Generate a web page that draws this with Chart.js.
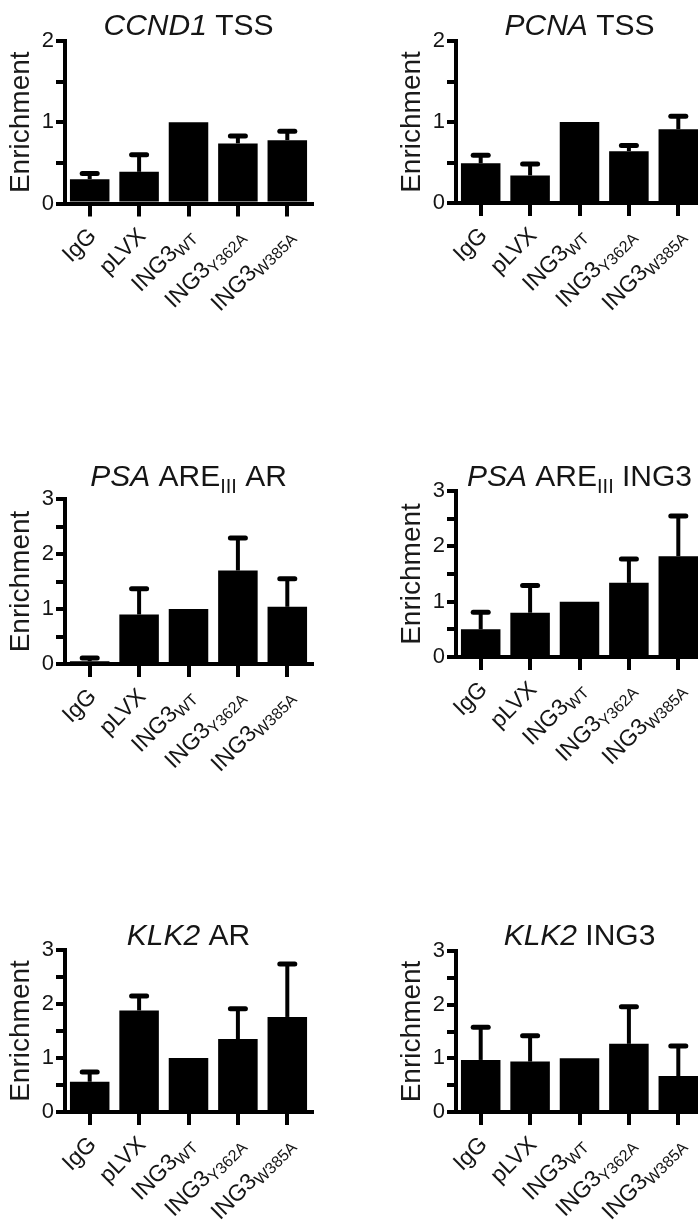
<!DOCTYPE html>
<html>
<head>
<meta charset="utf-8">
<script src="https://cdn.jsdelivr.net/npm/chart.js@4.4.1/dist/chart.umd.min.js"></script>
<style>
  html, body { margin: 0; padding: 0; background: #fff; overflow: hidden; width: 698px; height: 1232px; }
  canvas.panel { position: absolute; }
</style>
</head>
<body>
<canvas id="ccnd1" class="panel"></canvas>
<canvas id="pcna" class="panel"></canvas>
<canvas id="psaAr" class="panel"></canvas>
<canvas id="psaIng3" class="panel"></canvas>
<canvas id="klk2Ar" class="panel"></canvas>
<canvas id="klk2Ing3" class="panel"></canvas>
<script>
// category labels: main text + subscript
const mainLabels = ['IgG', 'pLVX', 'ING3', 'ING3', 'ING3'];
const subLabels = ['', '', 'WT', 'Y362A', 'W385A'];

// mean enrichment and upper error (SEM) per panel
const ccnd1Mean = [0.30, 0.39, 1.0, 0.74, 0.78];
const ccnd1Err  = [0.07, 0.21, 0, 0.09, 0.11];
const pcnaMean  = [0.49, 0.34, 1.0, 0.64, 0.91];
const pcnaErr   = [0.10, 0.14, 0, 0.07, 0.16];
const psaArMean = [0.05, 0.90, 1.0, 1.70, 1.04];
const psaArErr  = [0.06, 0.47, 0, 0.59, 0.51];
const psaIng3Mean = [0.50, 0.80, 1.0, 1.34, 1.82];
const psaIng3Err  = [0.31, 0.49, 0, 0.43, 0.73];
const klk2ArMean = [0.56, 1.88, 1.0, 1.35, 1.76];
const klk2ArErr  = [0.18, 0.27, 0, 0.56, 0.98];
const klk2Ing3Mean = [0.97, 0.94, 1.0, 1.27, 0.67];
const klk2Ing3Err  = [0.61, 0.48, 0, 0.69, 0.56];

const yMaxima = [2, 2, 3, 3, 3, 3];

// title pieces: [text, style] where style is 'i' italic, 's' subscript, '' normal
const titles = [
  [['CCND1', 'i'], [' TSS', '']],
  [['PCNA', 'i'], [' TSS', '']],
  [['PSA', 'i'], [' ARE', ''], ['III', 's'], [' AR', '']],
  [['PSA', 'i'], [' ARE', ''], ['III', 's'], [' ING3', '']],
  [['KLK2', 'i'], [' AR', '']],
  [['KLK2', 'i'], [' ING3', '']]
];

const FAMILY = "'Liberation Sans', Arial, Helvetica, sans-serif";
const W = 330, H = 380;

// where each panel sits on the page
const layout = {
  ccnd1:    { left: 0,   top: 0,   areaTop: 41, areaBottom: 203.5, titleY: 35 },
  pcna:     { left: 391, top: 0,   areaTop: 41, areaBottom: 203,   titleY: 35 },
  psaAr:    { left: 0,   top: 420, areaTop: 79, areaBottom: 244,   titleY: 66 },
  psaIng3:  { left: 391, top: 420, areaTop: 71, areaBottom: 237,   titleY: 66 },
  klk2Ar:   { left: 0,   top: 900, areaTop: 50, areaBottom: 212,   titleY: 45 },
  klk2Ing3: { left: 391, top: 900, areaTop: 51, areaBottom: 212,   titleY: 45 }
};

const errorBars = {
  id: 'errorBars',
  afterDatasetsDraw(chart) {
    const { ctx } = chart;
    const y = chart.scales.y;
    const ds = chart.data.datasets[0];
    const meta = chart.getDatasetMeta(0);
    ctx.save();
    ctx.strokeStyle = '#000';
    meta.data.forEach((bar, i) => {
      const e = ds.err[i];
      if (!e) return;
      const y0 = y.getPixelForValue(ds.data[i]);
      const y1 = y.getPixelForValue(ds.data[i] + e);
      ctx.lineWidth = 4;
      ctx.lineCap = 'butt';
      ctx.beginPath();
      ctx.moveTo(bar.x, y0);
      ctx.lineTo(bar.x, y1);
      ctx.stroke();
      ctx.lineWidth = 5;
      ctx.lineCap = 'round';
      ctx.beginPath();
      ctx.moveTo(bar.x - 7.5, y1);
      ctx.lineTo(bar.x + 7.5, y1);
      ctx.stroke();
    });
    ctx.restore();
  }
};

// rotated category labels with subscripts
const xLabels = {
  id: 'xLabels',
  afterDraw(chart) {
    const { ctx, chartArea } = chart;
    const x = chart.scales.x;
    ctx.save();
    ctx.fillStyle = '#151515';
    ctx.textAlign = 'right';
    ctx.textBaseline = 'alphabetic';
    mainLabels.forEach((m, i) => {
      const px = x.getPixelForValue(i);
      ctx.save();
      ctx.translate(px + 2, chartArea.bottom + 28);
      ctx.rotate(-Math.PI / 4);
      let end = 0;
      const s = subLabels[i];
      if (s) {
        ctx.font = '16px ' + FAMILY;
        ctx.fillText(s, 0, 12);
        end = -ctx.measureText(s).width;
      }
      ctx.font = '23px ' + FAMILY;
      ctx.fillText(m, end, 8);
      ctx.restore();
    });
    ctx.restore();
  }
};

// panel title with italic gene name and subscripts
const panelTitle = {
  id: 'panelTitle',
  afterDraw(chart, args, opts) {
    const { ctx, chartArea } = chart;
    const pieces = opts.pieces;
    const fontFor = st => st === 'i' ? 'italic 30px ' + FAMILY : st === 's' ? '20px ' + FAMILY : '30px ' + FAMILY;
    ctx.save();
    ctx.fillStyle = '#151515';
    ctx.textAlign = 'left';
    ctx.textBaseline = 'alphabetic';
    let total = 0;
    pieces.forEach(([t, st]) => { ctx.font = fontFor(st); total += ctx.measureText(t).width; });
    let cx = (chartArea.left + chartArea.right) / 2 - total / 2;
    pieces.forEach(([t, st]) => {
      ctx.font = fontFor(st);
      ctx.fillText(t, cx, opts.y + (st === 's' ? 7 : 0));
      cx += ctx.measureText(t).width;
    });
    ctx.restore();
  }
};

function makePanel(id, idx, mean, err) {
  const p = layout[id];
  const canvas = document.getElementById(id);
  canvas.width = W;
  canvas.height = H;
  canvas.style.left = p.left + 'px';
  canvas.style.top = p.top + 'px';

  new Chart(canvas, {
    type: 'bar',
    data: {
      labels: mainLabels.map((m, i) => m + subLabels[i]),
      datasets: [{
        data: mean,
        err: err,
        backgroundColor: '#000',
        borderWidth: 0,
        barPercentage: 0.8,
        categoryPercentage: 1.0
      }]
    },
    options: {
      responsive: false,
      animation: false,
      devicePixelRatio: 1,
      layout: { padding: { top: p.areaTop, right: W - 312, left: 0, bottom: 0 } },
      plugins: {
        legend: { display: false },
        tooltip: { enabled: false },
        panelTitle: { pieces: titles[idx], y: p.titleY }
      },
      scales: {
        x: {
          afterFit: s => { s.height = H - p.areaBottom; },
          ticks: { display: false },
          grid: { offset: false, drawOnChartArea: false, tickLength: 13, lineWidth: 4, color: '#000' },
          border: { width: 4, color: '#000' }
        },
        y: {
          min: 0,
          max: yMaxima[idx],
          afterFit: s => { s.width = 65; },
          ticks: {
            stepSize: 0.5,
            autoSkip: false,
            padding: 2,
            color: '#151515',
            font: { family: FAMILY, size: 22 },
            callback: v => Number.isInteger(v) ? v : ''
          },
          grid: { drawOnChartArea: false, tickLength: 9, lineWidth: 4, color: '#000' },
          border: { width: 4, color: '#000' },
          title: {
            display: true,
            text: 'Enrichment',
            color: '#1a1a1a',
            font: { family: FAMILY, size: 28 },
            padding: { top: 4, bottom: 0 }
          }
        }
      }
    },
    plugins: [errorBars, xLabels, panelTitle]
  });
}

makePanel('ccnd1', 0, ccnd1Mean, ccnd1Err);
makePanel('pcna', 1, pcnaMean, pcnaErr);
makePanel('psaAr', 2, psaArMean, psaArErr);
makePanel('psaIng3', 3, psaIng3Mean, psaIng3Err);
makePanel('klk2Ar', 4, klk2ArMean, klk2ArErr);
makePanel('klk2Ing3', 5, klk2Ing3Mean, klk2Ing3Err);
</script>
</body>
</html>
